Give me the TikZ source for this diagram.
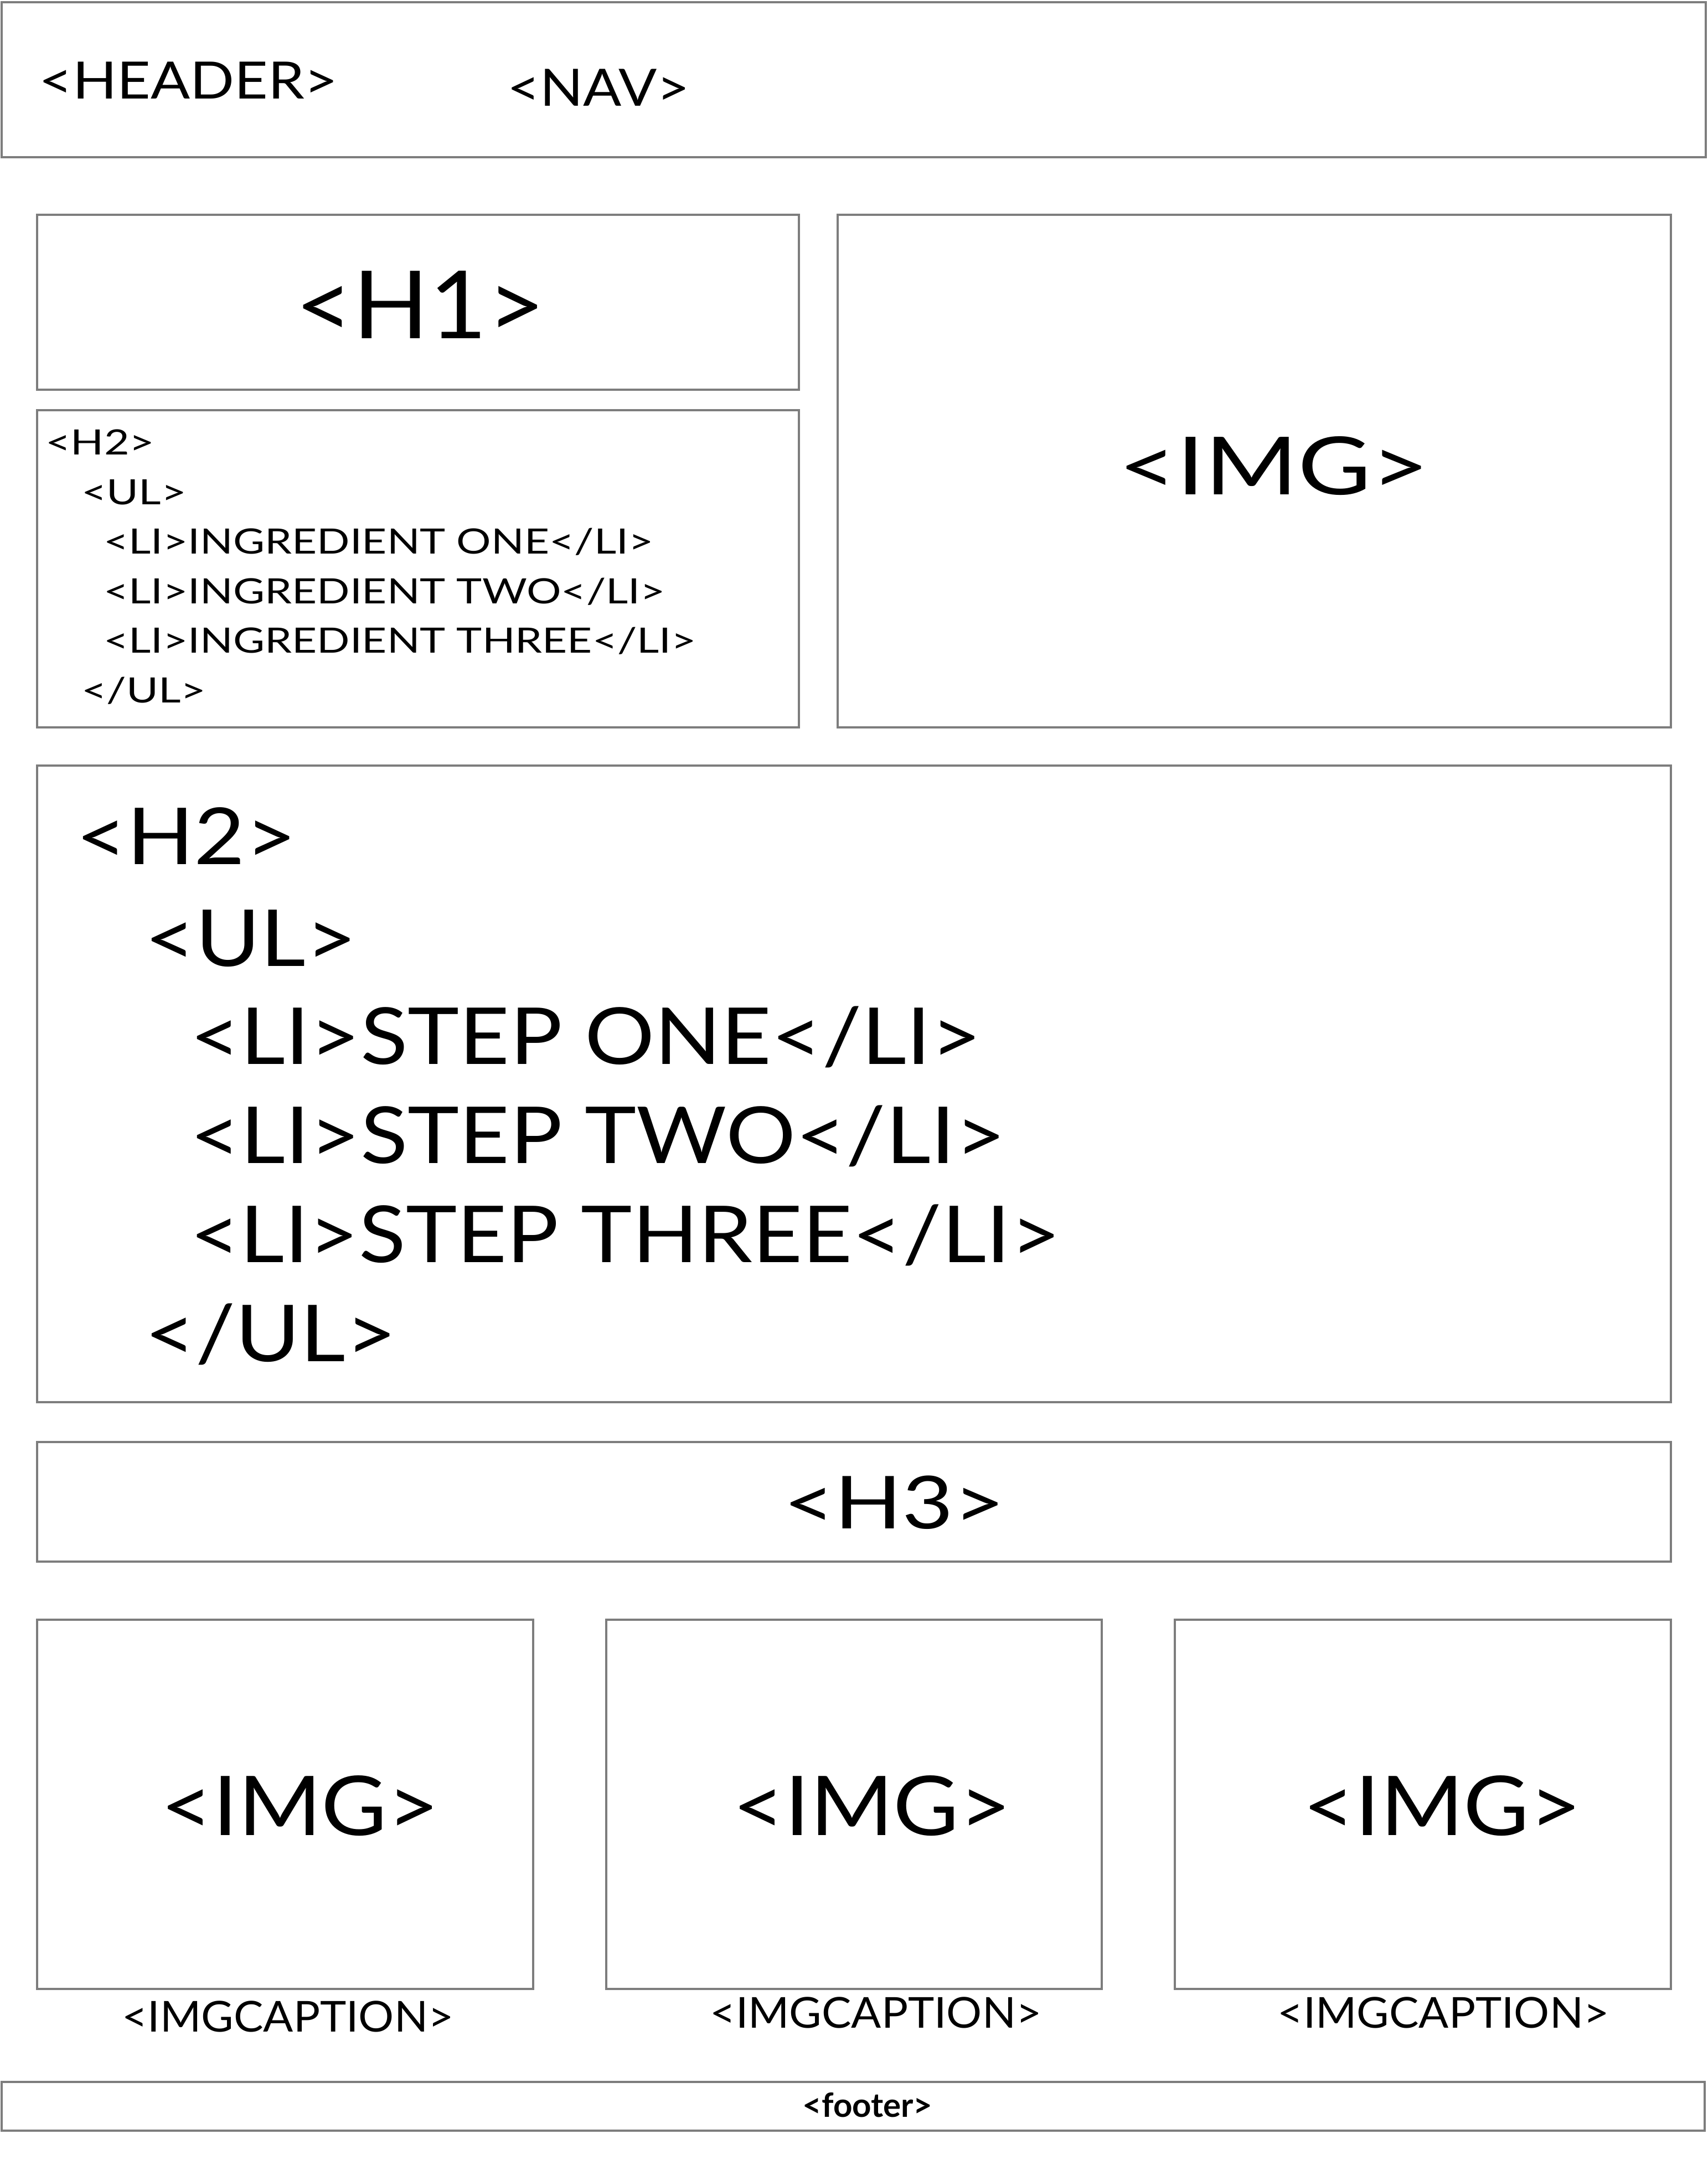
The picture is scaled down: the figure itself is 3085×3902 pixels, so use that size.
\documentclass[tikz,border=0pt]{standalone}
\usepackage{fontspec}
\usepackage{graphicx}
\setmainfont{Lato}
\definecolor{edge}{RGB}{125,125,125}
\tikzset{
  box/.style={draw=edge, line width=4pt},
  lbl/.style={inner sep=0pt, anchor=base west},
  clbl/.style={inner sep=0pt, anchor=base},
}
\newcommand{\fs}[1]{\fontsize{#1}{#1}\selectfont}
\newcommand{\sx}[2]{\scalebox{#1}[1]{#2}}
\begin{document}
\begin{tikzpicture}[x=1pt,y=-1pt]
\useasboundingbox[fill=white] (0,0) rectangle (3085,3902);
% boxes
\draw[box] (3,4) rectangle (3081,284);
\draw[box] (67,388) rectangle (1443,704);
\draw[box] (67,741) rectangle (1443,1314);
\draw[box] (1513,388) rectangle (3018,1314);
\draw[box] (67,1383) rectangle (3018,2533);
\draw[box] (67,2605) rectangle (3018,2821);
\draw[box] (67,2926) rectangle (963,3593);
\draw[box] (1095,2926) rectangle (1990,3593);
\draw[box] (2122,2926) rectangle (3018,3593);
\draw[box] (3,3761) rectangle (3079,3849);
% header
\node[lbl] (header) at (70,178) {\fs{93}\sx{1.13}{<HEADER>}};
\node[lbl] (nav) at (916,191) {\fs{93}\sx{1.10}{<NAV>}};
% h1
\node[clbl] (h1) at (759,611) {\fs{170}\sx{1.06}{<H1>}};
% ingredients
\node[lbl] (ih2) at (82,821) {\fs{63}\sx{1.25}{<H2>}};
\node[lbl] (iul) at (147,911) {\fs{63}\sx{1.25}{<UL>}};
\node[lbl] (ili1) at (187,1000) {\fs{63}\sx{1.24}{<LI>INGREDIENT ONE</LI>}};
\node[lbl] (ili2) at (187,1090) {\fs{63}\sx{1.24}{<LI>INGREDIENT TWO</LI>}};
\node[lbl] (ili3) at (187,1179) {\fs{63}\sx{1.24}{<LI>INGREDIENT THREE</LI>}};
\node[lbl] (iulc) at (147,1269) {\fs{63}\sx{1.25}{</UL>}};
% big img
\node[clbl] (img) at (2301,893) {\fs{145}\sx{1.25}{<IMG>}};
% steps
\node[lbl] (sh2) at (137,1561) {\fs{142}\sx{1.12}{<H2>}};
\node[lbl] (sul) at (261,1745) {\fs{142}\sx{1.12}{<UL>}};
\node[lbl] (sli1) at (343,1922) {\fs{142}\sx{1.11}{<LI>STEP ONE</LI>}};
\node[lbl] (sli2) at (343,2101) {\fs{142}\sx{1.11}{<LI>STEP TWO</LI>}};
\node[lbl] (sli3) at (343,2280) {\fs{142}\sx{1.10}{<LI>STEP THREE</LI>}};
\node[lbl] (sulc) at (261,2459) {\fs{142}\sx{1.12}{</UL>}};
% h3
\node[clbl] (h3) at (1615,2761) {\fs{132}\sx{1.21}{<H3>}};
% small imgs
\node[clbl] (img1) at (542,3315) {\fs{149}\sx{1.09}{<IMG>}};
\node[clbl] (img2) at (1575,3315) {\fs{149}\sx{1.09}{<IMG>}};
\node[clbl] (img3) at (2605,3315) {\fs{149}\sx{1.09}{<IMG>}};
% captions
\node[clbl] (cap1) at (520,3670) {\fs{77}\sx{1.04}{<IMGCAPTION>}};
\node[clbl] (cap2) at (1582,3663) {\fs{77}\sx{1.04}{<IMGCAPTION>}};
\node[clbl] (cap3) at (2607,3663) {\fs{77}\sx{1.04}{<IMGCAPTION>}};
% footer
\node[clbl] (footer) at (1567,3824) {\fs{60}\bfseries <footer>};
\end{tikzpicture}
\end{document}
